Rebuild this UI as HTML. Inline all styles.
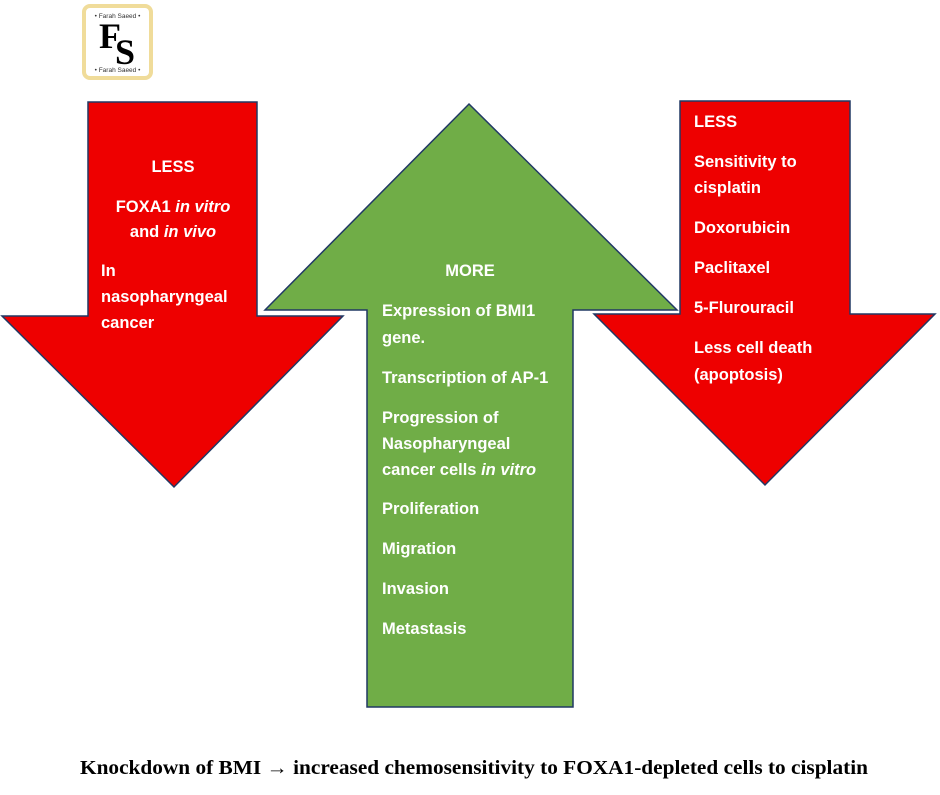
<!DOCTYPE html>
<html><head><meta charset="utf-8"><style>
html,body{margin:0;padding:0;background:#fff;width:940px;height:795px;overflow:hidden}
svg text{font-family:"Liberation Sans",Arial,sans-serif;font-weight:bold;font-size:16.5px;fill:#fff}
</style></head><body>
<svg width="940" height="795" viewBox="0 0 940 795" xmlns="http://www.w3.org/2000/svg">
<rect x="84" y="6" width="67" height="72" rx="6" fill="#fff" stroke="#f0dc9a" stroke-width="4"/>
<text x="117.5" y="18" text-anchor="middle" style="font-size:6.5px;font-weight:normal;fill:#333">• Farah Saeed •</text>
<text x="117.5" y="72" text-anchor="middle" style="font-size:6.5px;font-weight:normal;fill:#333">• Farah Saeed •</text>
<text x="110" y="48" text-anchor="middle" style="font-family:'Liberation Serif',serif;font-size:36px;fill:#000">F</text>
<text x="125" y="64" text-anchor="middle" style="font-family:'Liberation Serif',serif;font-size:36px;fill:#000">S</text>
<polygon points="469,104 677,310 573,310 573,707 367,707 367,310 265,310" fill="#70ad47" stroke="#203864" stroke-width="1.5"/>
<polygon points="88,102 257,102 257,316 343,316 174,487 2,316 88,316" fill="#ee0000" stroke="#203864" stroke-width="1.5"/>
<polygon points="680,101 850,101 850,314 935,314 765,485 594,314 680,314" fill="#ee0000" stroke="#203864" stroke-width="1.5"/>
<text x="173" y="172" text-anchor="middle">LESS</text>
<text x="173" y="212" text-anchor="middle">FOXA1 <tspan font-style="italic">in vitro</tspan></text>
<text x="173" y="237" text-anchor="middle">and <tspan font-style="italic">in vivo</tspan></text>
<text x="101" y="276">In</text>
<text x="101" y="302">nasopharyngeal</text>
<text x="101" y="328">cancer</text>
<text x="694" y="127">LESS</text>
<text x="694" y="167">Sensitivity to</text>
<text x="694" y="193">cisplatin</text>
<text x="694" y="233">Doxorubicin</text>
<text x="694" y="273">Paclitaxel</text>
<text x="694" y="313">5-Flurouracil</text>
<text x="694" y="353">Less cell death</text>
<text x="694" y="380">(apoptosis)</text>
<text x="470" y="276" text-anchor="middle">MORE</text>
<text x="382" y="316">Expression of BMI1</text>
<text x="382" y="343">gene.</text>
<text x="382" y="383">Transcription of AP-1</text>
<text x="382" y="423">Progression  of</text>
<text x="382" y="449">Nasopharyngeal</text>
<text x="382" y="475">cancer cells <tspan font-style="italic">in vitro</tspan></text>
<text x="382" y="514">Proliferation</text>
<text x="382" y="554">Migration</text>
<text x="382" y="594">Invasion</text>
<text x="382" y="634">Metastasis</text>
<text x="80" y="774" textLength="788" lengthAdjust="spacingAndGlyphs" style="font-family:'Liberation Serif',serif;font-size:19.5px;fill:#000">Knockdown of BMI → increased chemosensitivity to FOXA1-depleted cells to cisplatin</text>
</svg>
</body></html>
